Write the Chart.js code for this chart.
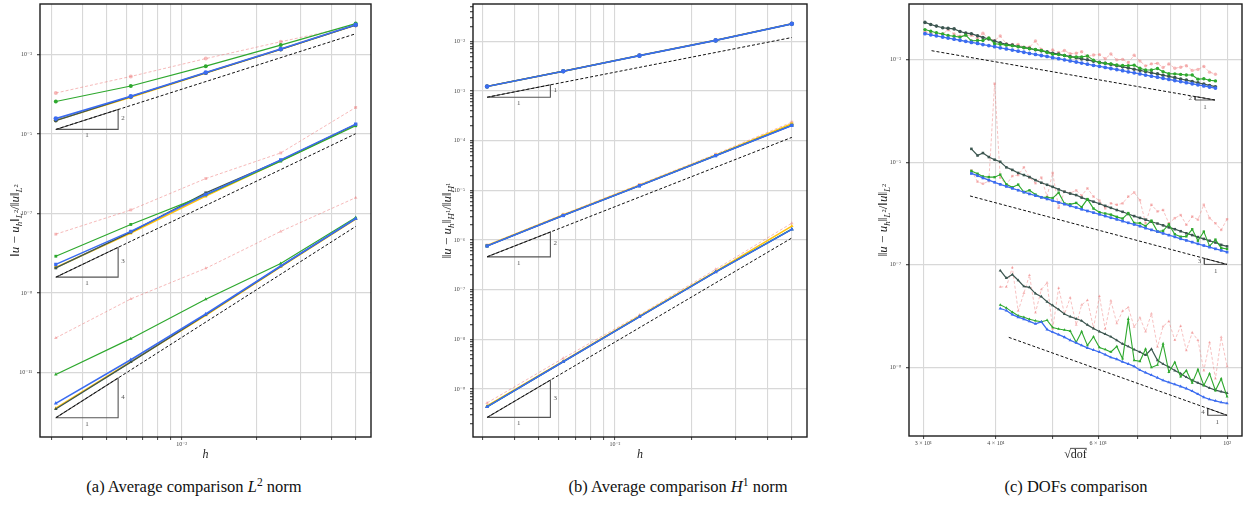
<!DOCTYPE html>
<html>
<head>
<meta charset="utf-8">
<script src="https://cdn.jsdelivr.net/npm/chart.js@4.4.1/dist/chart.umd.min.js"></script>
<style>
  html, body { margin: 0; padding: 0; background: #fff; }
  #fig { position: relative; width: 1252px; height: 507px; overflow: hidden; background: #fff; }
  #fig canvas { position: absolute; top: 0; }
  .cap { position: absolute; top: 479px; font-family: 'Liberation Serif', 'Times New Roman', serif;
         font-size: 16.5px; line-height: 1; color: #111; white-space: nowrap; transform: translateX(-50%); }
  .cap sup { font-size: 0.7em; vertical-align: 0.55em; line-height: 0; }
</style>
</head>
<body>
<div id="fig">
  <canvas id="cA" width="385" height="470" style="left:0px;width:385px;height:470px"></canvas>
  <canvas id="cB" width="410" height="470" style="left:405px;width:410px;height:470px"></canvas>
  <canvas id="cC" width="392" height="470" style="left:860px;width:392px;height:470px"></canvas>
  <div class="cap" style="left:194px">(a) Average comparison <i>L</i><sup>2</sup> norm</div>
  <div class="cap" style="left:678px">(b) Average comparison <i>H</i><sup>1</sup> norm</div>
  <div class="cap" style="left:1076px">(c) DOFs comparison</div>
</div>
<script>
// ---------- mesh sizes (panels a, b) ----------
const hVals = [0.003125, 0.00625, 0.0125, 0.025, 0.05];

// ---------- (a) relative L2 error, one row per polynomial degree ----------
const aPink = [
  [1.08e-4, 2.82e-4, 7.94e-4, 2.11e-3, 5.37e-3],
  [3.02e-8, 1.23e-7, 7.59e-7, 3.35e-6, 4.68e-5],
  [7.41e-11, 7.08e-10, 4.17e-9, 3.55e-8, 2.51e-7]];
const aGreen = [
  [6.61e-5, 1.62e-4, 5.13e-4, 1.74e-3, 6.03e-3],
  [8.41e-9, 5.31e-8, 2.95e-7, 2.09e-6, 1.62e-5],
  [8.91e-12, 7.08e-11, 6.92e-10, 5.50e-9, 7.94e-8]];
const aDark = [
  [2.19e-5, 8.71e-5, 3.47e-4, 1.35e-3, 5.50e-3],
  [4.27e-9, 3.39e-8, 3.31e-7, 2.19e-6, 1.74e-5],
  [1.20e-12, 1.82e-11, 2.82e-10, 4.68e-9, 7.41e-8]];
const aYellow = [
  [2.24e-5, 8.51e-5, 3.47e-4, 1.36e-3, 5.56e-3],
  [4.37e-9, 3.24e-8, 2.75e-7, 2.14e-6, 1.72e-5],
  [1.26e-12, 1.86e-11, 2.75e-10, 4.57e-9, 7.24e-8]];
const aBlue = [
  [2.45e-5, 8.91e-5, 3.55e-4, 1.38e-3, 5.62e-3],
  [5.25e-9, 3.55e-8, 3.02e-7, 2.24e-6, 1.78e-5],
  [1.66e-12, 2.09e-11, 2.95e-10, 4.79e-9, 7.50e-8]];
const refH = [0.003125, 0.05];
const aRef = [[1.31e-5, 3.35e-3], [2.50e-9, 1.02e-5], [7.23e-13, 4.73e-8]];
const slopeH = [0.003125, 0.00556];
const aSlopeY = [[1.31e-5, 4.14e-5], [2.50e-9, 1.41e-8], [7.23e-13, 7.23e-12]];
const aSlopeRise = ['2', '3', '4'];

// ---------- (b) relative H1 error ----------
const bPink = [
  [1.25e-3, 2.53e-3, 5.22e-3, 1.06e-2, 2.30e-2],
  [7.94e-7, 3.31e-6, 1.32e-5, 5.37e-5, 2.37e-4],
  [5.25e-10, 4.17e-9, 3.09e-8, 2.57e-7, 2.19e-6]];
const bGreen = [
  [1.24e-3, 2.51e-3, 5.18e-3, 1.05e-2, 2.26e-2],
  [7.59e-7, 3.12e-6, 1.24e-5, 5.01e-5, 2.05e-4],
  [4.37e-10, 3.55e-9, 2.84e-8, 2.27e-7, 1.66e-6]];
const bDark = [
  [1.24e-3, 2.51e-3, 5.19e-3, 1.05e-2, 2.27e-2],
  [7.59e-7, 3.13e-6, 1.24e-5, 5.02e-5, 2.05e-4],
  [4.38e-10, 3.56e-9, 2.85e-8, 2.27e-7, 1.65e-6]];
const bYellow = [
  [1.24e-3, 2.52e-3, 5.20e-3, 1.055e-2, 2.28e-2],
  [7.76e-7, 3.20e-6, 1.27e-5, 5.13e-5, 2.19e-4],
  [4.57e-10, 3.63e-9, 2.92e-8, 2.34e-7, 1.91e-6]];
const bBlue = [
  [1.24e-3, 2.51e-3, 5.18e-3, 1.05e-2, 2.26e-2],
  [7.59e-7, 3.12e-6, 1.24e-5, 5.01e-5, 2.04e-4],
  [4.37e-10, 3.55e-9, 2.84e-8, 2.26e-7, 1.64e-6]];
const bRef = [[7.52e-4, 1.20e-2], [4.59e-7, 1.17e-4], [2.68e-10, 1.10e-6]];
const bSlopeY = [[7.52e-4, 1.34e-3], [4.59e-7, 1.45e-6], [2.68e-10, 1.51e-9]];
const bSlopeRise = ['1', '2', '3'];

// ---------- (c) relative L2 error against sqrt(dof) ----------
const cX1 = [30.2,30.9,31.6,32.4,33.1,33.9,34.7,35.5,36.3,37.2,38.0,38.9,39.8,40.7,41.7,42.7,43.7,44.7,45.7,46.8,
  47.9,49.0,50.1,51.3,52.5,53.7,55.0,56.2,57.5,58.9,60.3,61.7,63.1,64.6,66.1,67.6,69.2,70.8,72.4,74.1,
  75.9,77.6,79.4,81.3,83.2,85.1,87.1,89.1,91.2,93.3,95.5];
const cX2 = [36.3,37.2,38.0,38.9,39.8,40.7,41.7,42.7,43.7,44.7,45.7,46.8,47.9,49.0,50.1,51.3,52.5,53.7,55.0,56.2,
  57.5,58.9,60.3,61.7,63.1,64.6,66.1,67.6,69.2,70.8,72.4,74.1,75.9,77.6,79.4,81.3,83.2,85.1,87.1,89.1,
  91.2,93.3,95.5,97.7,100];
const cX3 = [40.7,41.7,42.7,43.7,44.7,45.7,46.8,47.9,49.0,50.1,51.3,52.5,53.7,55.0,56.2,57.5,58.9,60.3,61.7,63.1,
  64.6,66.1,67.6,69.2,70.8,72.4,74.1,75.9,77.6,79.4,81.3,83.2,85.1,87.1,89.1,91.2,93.3,95.5,97.7,100];

const cBlue1 = [3.19e-3,3.04e-3,2.90e-3,2.75e-3,2.62e-3,2.50e-3,2.38e-3,2.27e-3,2.16e-3,2.06e-3,
  1.96e-3,1.87e-3,1.78e-3,1.69e-3,1.61e-3,1.53e-3,1.46e-3,1.39e-3,1.32e-3,1.26e-3,
  1.20e-3,1.15e-3,1.09e-3,1.04e-3,9.89e-4,9.42e-4,8.97e-4,8.55e-4,8.13e-4,7.74e-4,
  7.38e-4,7.03e-4,6.70e-4,6.37e-4,6.07e-4,5.78e-4,5.51e-4,5.25e-4,4.99e-4,4.75e-4,
  4.53e-4,4.32e-4,4.11e-4,3.91e-4,3.72e-4,3.55e-4,3.38e-4,3.22e-4,3.06e-4,2.92e-4,2.78e-4];
const cDark1 = [5.30e-3,4.82e-3,4.49e-3,4.17e-3,4.06e-3,3.96e-3,3.52e-3,3.28e-3,3.19e-3,2.90e-3,
  2.70e-3,2.52e-3,2.29e-3,2.13e-3,1.98e-3,1.91e-3,1.80e-3,1.71e-3,1.65e-3,1.55e-3,
  1.48e-3,1.41e-3,1.33e-3,1.28e-3,1.20e-3,1.15e-3,1.09e-3,1.03e-3,9.89e-4,9.31e-4,
  8.87e-4,8.45e-4,8.05e-4,7.57e-4,7.21e-4,6.87e-4,6.47e-4,6.17e-4,5.86e-4,5.52e-4,
  5.26e-4,4.95e-4,4.72e-4,4.44e-4,4.18e-4,3.98e-4,3.75e-4,3.53e-4,3.32e-4,3.13e-4,2.96e-4];
const cGreen1 = [3.84e-3,3.57e-3,3.33e-3,3.16e-3,2.94e-3,2.84e-3,2.74e-3,2.99e-3,2.31e-3,2.36e-3,
  2.35e-3,2.64e-3,2.04e-3,1.99e-3,1.91e-3,1.85e-3,1.78e-3,1.71e-3,1.63e-3,1.57e-3,
  1.51e-3,1.38e-3,1.27e-3,1.25e-3,1.20e-3,1.11e-3,1.13e-3,1.13e-3,1.17e-3,9.75e-4,
  8.67e-4,8.45e-4,8.24e-4,7.83e-4,7.64e-4,7.62e-4,7.78e-4,6.76e-4,6.28e-4,6.27e-4,
  6.70e-4,5.82e-4,5.30e-4,5.27e-4,5.14e-4,5.01e-4,5.00e-4,4.15e-4,4.23e-4,3.94e-4,3.84e-4];
const cPink1 = [3.50e-3,3.26e-3,3.03e-3,3.16e-3,3.79e-3,3.15e-3,2.86e-3,2.99e-3,2.98e-3,2.59e-3,
  3.25e-3,2.58e-3,2.34e-3,2.87e-3,2.03e-3,1.98e-3,1.97e-3,1.75e-3,1.75e-3,2.30e-3,
  1.58e-3,1.38e-3,1.54e-3,1.37e-3,1.50e-3,1.30e-3,1.33e-3,1.42e-3,1.15e-3,1.23e-3,
  1.25e-3,1.04e-3,1.28e-3,9.87e-4,1.01e-3,8.75e-4,1.21e-3,9.33e-4,7.55e-4,8.26e-4,
  8.43e-4,7.00e-4,8.20e-4,6.79e-4,7.10e-4,7.59e-4,6.15e-4,6.43e-4,7.35e-4,5.69e-4,5.18e-4];

const cBlue2 = [6.03e-6,5.45e-6,4.93e-6,4.47e-6,4.06e-6,3.70e-6,3.37e-6,3.09e-6,2.84e-6,2.61e-6,
  2.41e-6,2.23e-6,2.07e-6,1.92e-6,1.78e-6,1.64e-6,1.52e-6,1.41e-6,1.31e-6,1.21e-6,
  1.12e-6,1.04e-6,9.64e-7,8.93e-7,8.28e-7,7.67e-7,7.11e-7,6.59e-7,6.11e-7,5.66e-7,
  5.19e-7,4.80e-7,4.44e-7,4.10e-7,3.79e-7,3.51e-7,3.22e-7,2.99e-7,2.77e-7,2.57e-7,
  2.38e-7,2.21e-7,2.05e-7,1.91e-7,1.77e-7];
const cDark2 = [1.82e-5,1.35e-5,1.51e-5,1.26e-5,1.12e-5,1.02e-5,7.94e-6,7.08e-6,6.17e-6,5.62e-6,
  5.13e-6,4.47e-6,3.98e-6,3.63e-6,3.31e-6,2.95e-6,2.66e-6,2.45e-6,2.29e-6,2.04e-6,
  1.86e-6,1.70e-6,1.55e-6,1.41e-6,1.29e-6,1.17e-6,1.08e-6,9.77e-7,8.91e-7,8.22e-7,
  7.59e-7,6.92e-7,6.38e-7,5.89e-7,5.37e-7,4.95e-7,4.52e-7,4.12e-7,3.80e-7,3.47e-7,
  3.20e-7,2.95e-7,2.72e-7,2.45e-7,2.29e-7];
const cGreen2 = [6.76e-6,5.97e-6,5.28e-6,5.13e-6,5.11e-6,5.73e-6,3.70e-6,3.24e-6,3.66e-6,2.61e-6,
  2.83e-6,2.34e-6,2.07e-6,2.06e-6,2.00e-6,2.55e-6,1.56e-6,1.51e-6,1.61e-6,1.33e-6,
  1.91e-6,1.25e-6,1.06e-6,1.00e-6,9.51e-7,8.61e-7,7.98e-7,1.02e-6,6.55e-7,6.50e-7,
  5.69e-7,7.26e-7,4.44e-7,4.60e-7,6.15e-7,3.94e-7,3.53e-7,3.59e-7,4.93e-7,2.95e-7,
  4.44e-7,2.32e-7,3.10e-7,2.14e-7,2.03e-7];
const cPink2 = [6.92e-6,4.17e-6,3.80e-6,4.27e-6,3.39e-4,5.01e-6,3.63e-6,5.37e-6,5.62e-6,7.94e-6,
  5.01e-6,3.89e-6,5.01e-6,2.14e-6,6.17e-6,1.29e-6,2.69e-6,2.51e-6,2.82e-6,2.24e-6,
  3.09e-6,2.14e-6,1.78e-6,1.26e-6,1.58e-6,1.48e-6,1.58e-6,2.14e-6,2.57e-6,1.82e-6,
  6.46e-7,1.48e-6,1.10e-6,1.17e-6,6.46e-7,8.13e-7,9.33e-7,6.03e-7,8.71e-7,7.59e-7,
  1.48e-6,8.13e-7,6.46e-7,4.79e-7,7.76e-7];

const cBlue3 = [1.41e-8,1.29e-8,1.07e-8,9.55e-9,8.71e-9,7.94e-9,7.08e-9,7.76e-9,5.50e-9,4.90e-9,
  4.37e-9,3.89e-9,3.39e-9,3.02e-9,2.69e-9,2.40e-9,2.19e-9,2.00e-9,1.78e-9,1.58e-9,
  1.45e-9,1.29e-9,1.17e-9,1.05e-9,8.91e-10,7.94e-10,7.08e-10,6.31e-10,5.62e-10,5.13e-10,
  4.68e-10,4.27e-10,3.89e-10,3.47e-10,3.02e-10,2.63e-10,2.40e-10,2.24e-10,2.09e-10,2.00e-10];
const cDark3 = [7.76e-8,5.50e-8,6.46e-8,5.01e-8,3.80e-8,3.63e-8,2.75e-8,2.40e-8,1.91e-8,1.62e-8,
  1.35e-8,1.10e-8,9.77e-9,8.91e-9,8.13e-9,6.76e-9,5.75e-9,5.01e-9,4.47e-9,3.98e-9,
  3.39e-9,2.88e-9,2.57e-9,2.24e-9,2.00e-9,1.74e-9,2.29e-9,1.38e-9,1.17e-9,1.02e-9,
  8.71e-10,7.59e-10,6.46e-10,5.62e-10,5.01e-10,4.47e-10,3.98e-10,3.63e-10,3.39e-10,3.16e-10];
const cGreen3 = [1.66e-8,1.45e-8,1.20e-8,1.02e-8,9.55e-9,8.71e-9,8.13e-9,7.76e-9,8.32e-9,6.03e-9,
  5.62e-9,5.37e-9,5.13e-9,3.09e-9,5.01e-9,2.69e-9,3.98e-9,2.45e-9,2.24e-9,2.00e-9,
  2.57e-9,1.48e-9,8.71e-9,1.38e-9,1.32e-9,2.29e-9,1.00e-9,1.12e-9,2.88e-9,8.13e-10,
  1.26e-9,6.61e-10,8.71e-10,5.01e-10,9.12e-10,4.47e-10,7.59e-10,3.55e-10,6.03e-10,2.69e-10];
const cPink3 = [3.72e-8,3.72e-8,8.91e-8,1.26e-8,2.82e-8,6.31e-8,1.17e-8,3.31e-8,4.47e-8,5.62e-9,
  3.55e-8,1.10e-8,2.29e-8,6.76e-9,1.66e-8,2.04e-8,5.89e-9,2.45e-8,5.62e-9,2.00e-8,
  7.24e-9,1.26e-8,1.48e-8,6.17e-9,9.33e-9,5.01e-9,1.12e-8,2.51e-9,6.31e-9,7.94e-9,
  3.39e-9,6.46e-9,2.14e-9,4.79e-9,3.39e-9,8.71e-10,3.09e-9,6.03e-10,3.89e-9,1.05e-9];

const cRefX = [[31.0, 95.3], [36.1, 100], [42.1, 100]];
const cRefY = [[1.49e-3, 1.63e-4], [2.20e-6, 1.02e-7], [3.86e-9, 1.17e-10]];
const cSlopeX = [[88.1, 95.3], [91.4, 100], [92.6, 100]];
const cSlopeY = [[1.91e-4, 1.63e-4], [1.33e-7, 1.02e-7], [1.60e-10, 1.17e-10]];
const cSlopeRise = ['2', '3', '4'];

// ---------- axis ticks ----------
const hTicks = [0.003, 0.004, 0.005, 0.006, 0.007, 0.008, 0.009, 0.01, 0.02, 0.03, 0.04, 0.05];
const hTickLabels = ['', '', '', '', '', '', '', '10⁻²', '', '', '', ''];
const aYTicks = [1e-11, 1e-9, 1e-7, 1e-5, 1e-3];
const bYMajor = [1e-10, 1e-9, 1e-8, 1e-7, 1e-6, 1e-5, 1e-4, 1e-3, 1e-2];
const cYTicks = [1e-9, 1e-7, 1e-5, 1e-3];
const cXTicks = [30, 40, 50, 60, 70, 80, 90, 100];
const cXTickLabels = ['3 × 10¹', '4 × 10¹', '', '6 × 10¹', '', '', '', '10²'];

// ---------- styling ----------
const FONT = "'Liberation Serif','DejaVu Serif',serif";
const COL = {
  blue: '#3b6cf0', green: '#2ea82e', dark: '#3c5650', yellow: '#ffc20e',
  pink: 'rgba(238,118,118,0.5)', ref: '#111', tri: '#555', grid: '#d8d8d8'
};
const SUP = {'-': '⁻', '0': '⁰', '1': '¹', '2': '²', '3': '³', '4': '⁴', '5': '⁵', '6': '⁶', '7': '⁷', '8': '⁸', '9': '⁹'};
const isDecade = v => Math.abs(Math.log10(v) - Math.round(Math.log10(v))) < 1e-6;
const powLabel = v => '10' + String(Math.round(Math.log10(v))).split('').map(c => SUP[c]).join('');

function line(xs, ys, color, o) {
  return {
    data: ys.map((y, i) => ({x: xs[i], y})),
    borderColor: color, backgroundColor: color,
    borderWidth: o.w, borderDash: o.dash || [],
    pointRadius: o.r || 0, pointStyle: o.shape || 'circle',
    pointBackgroundColor: color, pointBorderColor: color, pointBorderWidth: 0,
    tension: 0, fill: false, showLine: true
  };
}

// first dataset is painted last, so the list runs from top layer to bottom layer
function curveSets(xsByGroup, series, shapes, st) {
  const out = [];
  ['blue', 'green', 'dark', 'yellow', 'pink'].forEach(key => {
    if (!series[key]) return;
    series[key].forEach((ys, g) => out.push(line(xsByGroup[g], ys, COL[key], Object.assign({shape: shapes[g]}, st[key]))));
  });
  return out;
}

// slope triangle, vertical leg on the right (error grows with h)
function triRight(xPair, yPair) {
  const [x0, x1] = xPair, [yb, yt] = yPair;
  return line([x0, x1, x1, x0], [yb, yb, yt, yb], COL.tri, {w: 1.1});
}
// slope triangle, vertical leg on the left (error falls with dof)
function triLeft(xPair, yPair) {
  const [x0, x1] = xPair, [yt, yb] = yPair;
  return line([x0, x0, x1, x0], [yt, yb, yb, yt], COL.tri, {w: 1.0});
}

// ---------- rich text for axis titles ----------
function measureParts(ctx, parts, size) {
  return parts.map(([t, st]) => {
    let s = size, dy = 0, it = false, over = false;
    if (st === 'i') it = true;
    else if (st === 'is') { it = true; s = size * 0.7; dy = size * 0.28; }
    else if (st === 'ss') { s = size * 0.5; dy = -size * 0.02; }
    else if (st === 'o') { over = true; }
    const font = (it ? 'italic ' : '') + s + 'px ' + FONT;
    ctx.font = font;
    return {t, font, dy, over, w: ctx.measureText(t).width};
  });
}
function drawRich(ctx, cx, cy, parts, size, rot) {
  ctx.save();
  ctx.translate(cx, cy);
  ctx.rotate(rot);
  const m = measureParts(ctx, parts, size);
  const total = m.reduce((a, q) => a + q.w, 0);
  let x = -total / 2;
  const base = size * 0.35;
  ctx.textAlign = 'left';
  ctx.textBaseline = 'alphabetic';
  ctx.fillStyle = '#222';
  m.forEach(q => {
    ctx.font = q.font;
    ctx.fillText(q.t, x, base + q.dy);
    if (q.over) ctx.fillRect(x - 0.5, base - size * 0.86, q.w + 0.5, 0.8);
    x += q.w;
  });
  ctx.restore();
}

const decoCfg = {};
const deco = {
  id: 'deco',
  afterDraw(chart) {
    const cfg = decoCfg[chart.canvas.id];
    const {ctx, chartArea: a} = chart;
    const sx = chart.scales.x, sy = chart.scales.y;
    ctx.save();
    ctx.strokeStyle = '#1c1c1c';
    ctx.lineWidth = 1.4;
    ctx.strokeRect(a.left, a.top, a.right - a.left, a.bottom - a.top);

    ctx.fillStyle = '#555';
    ctx.font = '7px ' + FONT;
    ctx.textBaseline = 'middle';
    cfg.slopes.forEach(s => {
      const px0 = sx.getPixelForValue(s.x[0]), px1 = sx.getPixelForValue(s.x[1]);
      const pyA = sy.getPixelForValue(s.y[0]), pyB = sy.getPixelForValue(s.y[1]);
      if (s.side === 'right') {
        ctx.textAlign = 'left';
        ctx.fillText(s.rise, px1 + 3, (pyA + pyB) / 2 - 1);
        ctx.textAlign = 'center';
        ctx.fillText('1', (px0 + px1) / 2, pyA + 6);
      } else {
        ctx.textAlign = 'right';
        ctx.fillText(s.rise, px0 - 3, (pyA + pyB) / 2);
        ctx.textAlign = 'center';
        ctx.fillText('1', (px0 + px1) / 2, pyB + 7);
      }
    });
    drawRich(ctx, cfg.yTitleX, (a.top + a.bottom) / 2, cfg.yTitle, 13, -Math.PI / 2);
    drawRich(ctx, (a.left + a.right) / 2, cfg.xTitleY, cfg.xTitle, 12, 0);
    ctx.restore();
  }
};

function makeChart(id, cfg) {
  decoCfg[id] = cfg.deco;
  const tickFont = {family: FONT, size: 6};
  return new Chart(document.getElementById(id), {
    type: 'line',
    data: {datasets: cfg.datasets},
    options: {
      responsive: false, animation: false, devicePixelRatio: 1,
      layout: {padding: {left: 0, top: 1, right: cfg.padR, bottom: 0}},
      plugins: {legend: {display: false}, tooltip: {enabled: false}},
      scales: {
        x: {
          type: 'logarithmic', position: 'bottom', bounds: 'data', min: cfg.xMin, max: cfg.xMax,
          afterBuildTicks: s => { s.ticks = cfg.xTicks.map(v => ({value: v})); },
          afterFit: s => { s.height = cfg.xH; s.paddingLeft = 0; s.paddingRight = 0; },
          ticks: {autoSkip: false, maxRotation: 0, minRotation: 0, padding: 1, color: '#444', font: tickFont,
                  callback: (v, i) => cfg.xLabels[i]},
          grid: {color: COL.grid, lineWidth: 1.1, drawTicks: true, tickLength: 3, tickColor: '#555'},
          border: {display: false}
        },
        y: {
          type: 'logarithmic', position: 'left', bounds: 'data', min: cfg.yMin, max: cfg.yMax,
          afterBuildTicks: s => { s.ticks = cfg.yTicks.map(v => ({value: v})); },
          afterFit: s => { s.width = cfg.yW; s.paddingTop = 0; s.paddingBottom = 0; },
          ticks: {autoSkip: false, padding: 5, color: '#444', font: tickFont,
                  callback: (v) => (cfg.yLabelAll || isDecade(v)) ? powLabel(v) : ''},
          grid: {color: c => (c.tick && isDecade(c.tick.value)) ? COL.grid : 'rgba(0,0,0,0)',
                 lineWidth: 1.3, drawTicks: true, tickLength: 3, tickColor: '#555'},
          border: {display: false}
        }
      }
    },
    plugins: [deco]
  });
}

const titleL2 = [['‖', 'n'], ['u', 'i'], [' − ', 'n'], ['u', 'i'], ['h', 'is'], ['‖', 'n'], ['L', 'is'], ['2', 'ss'],
                 ['/‖', 'n'], ['u', 'i'], ['‖', 'n'], ['L', 'is'], ['2', 'ss']];
const titleH1 = [['‖', 'n'], ['u', 'i'], [' − ', 'n'], ['u', 'i'], ['h', 'is'], ['‖', 'n'], ['H', 'is'], ['1', 'ss'],
                 ['/‖', 'n'], ['u', 'i'], ['‖', 'n'], ['H', 'is'], ['1', 'ss']];

const shapes = ['circle', 'rect', 'triangle'];
const hByGroup = [hVals, hVals, hVals];
const styleAB = {
  blue: {w: 1.6, r: 2.3}, green: {w: 1.2, r: 2}, dark: {w: 1.3, r: 2},
  yellow: {w: 1.6, r: 2}, pink: {w: 1, r: 2, dash: [3, 2]}
};

// ---------- panel (a) ----------
const setsA = curveSets(hByGroup, {blue: aBlue, green: aGreen, dark: aDark, yellow: aYellow, pink: aPink}, shapes, styleAB);
aRef.forEach(r => setsA.push(line(refH, r, COL.ref, {w: 1, dash: [3, 2]})));
aSlopeY.forEach(y => setsA.push(triRight(slopeH, y)));
makeChart('cA', {
  datasets: setsA, xMin: 2.70e-3, xMax: 5.76e-2, yMin: 2.37e-13, yMax: 1.88e-2,
  xTicks: hTicks, xLabels: hTickLabels, yTicks: aYTicks, yLabelAll: true,
  yW: 40, xH: 33, padR: 14,
  deco: {yTitle: titleL2, yTitleX: 14, xTitle: [['h', 'i']], xTitleY: 454,
         slopes: aSlopeY.map((y, g) => ({x: slopeH, y, rise: aSlopeRise[g], side: 'right'}))}
});

// ---------- panel (b) ----------
const bYTicks = [];
bYMajor.forEach(m => [1, 2, 3, 4, 5, 6, 7, 8, 9].forEach(k => bYTicks.push(m * k)));
const setsB = curveSets(hByGroup, {blue: bBlue, green: bGreen, dark: bDark, yellow: bYellow, pink: bPink}, shapes, styleAB);
bRef.forEach(r => setsB.push(line(refH, r, COL.ref, {w: 1, dash: [3, 2]})));
bSlopeY.forEach(y => setsB.push(triRight(slopeH, y)));
makeChart('cB', {
  datasets: setsB, xMin: 2.75e-3, xMax: 5.74e-2, yMin: 1.08e-10, yMax: 5.68e-2,
  xTicks: hTicks, xLabels: hTickLabels, yTicks: bYTicks.filter(v => v > 1.08e-10 && v < 5.68e-2), yLabelAll: false,
  yW: 68, xH: 33, padR: 8,
  deco: {yTitle: titleH1, yTitleX: 41, xTitle: [['h', 'i']], xTitleY: 454,
         slopes: bSlopeY.map((y, g) => ({x: slopeH, y, rise: bSlopeRise[g], side: 'right'}))}
});

// ---------- panel (c) ----------
const styleC = {
  blue: {w: 1.3, r: 1.9}, green: {w: 1.1, r: 1.7}, dark: {w: 1.2, r: 1.8}, pink: {w: 0.9, r: 1.7, dash: [3, 2]}
};
const setsC = curveSets([cX1, cX2, cX3], {
  blue: [cBlue1, cBlue2, cBlue3], green: [cGreen1, cGreen2, cGreen3],
  dark: [cDark1, cDark2, cDark3], pink: [cPink1, cPink2, cPink3]
}, shapes, styleC);
cRefY.forEach((r, g) => setsC.push(line(cRefX[g], r, COL.ref, {w: 1, dash: [3, 2]})));
cSlopeY.forEach((y, g) => setsC.push(triLeft(cSlopeX[g], y)));
makeChart('cC', {
  datasets: setsC, xMin: 28.35, xMax: 106.1, yMin: 4.62e-11, yMax: 1.21e-2,
  xTicks: cXTicks, xLabels: cXTickLabels, yTicks: cYTicks, yLabelAll: true,
  yW: 49, xH: 34, padR: 10,
  deco: {yTitle: titleL2, yTitleX: 22, xTitle: [['√', 'n'], ['dof', 'o']], xTitleY: 454,
         slopes: cSlopeY.map((y, g) => ({x: cSlopeX[g], y, rise: cSlopeRise[g], side: 'left'}))}
});
</script>
</body>
</html>
